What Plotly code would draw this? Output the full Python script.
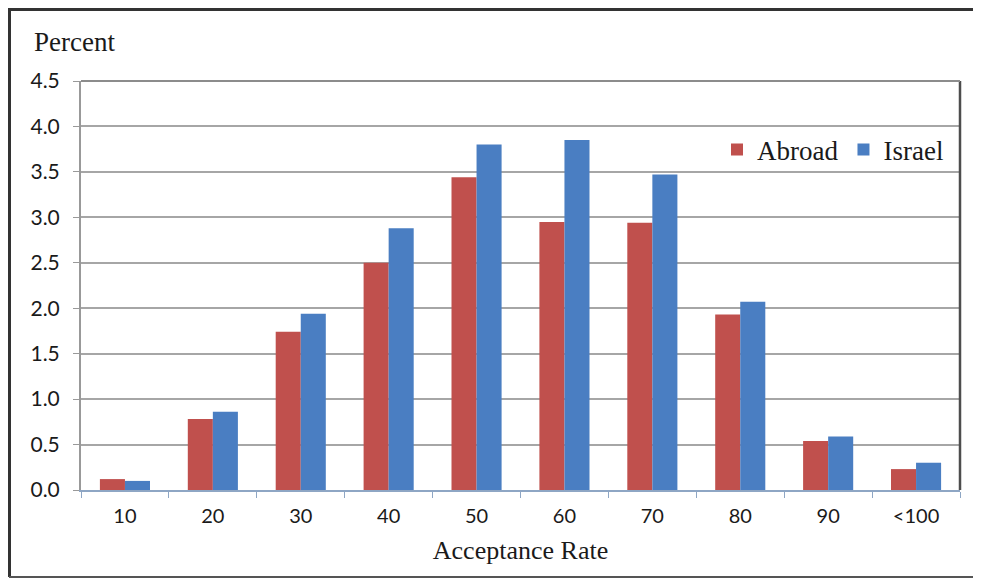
import plotly.graph_objects as go

categories = ["10", "20", "30", "40", "50", "60", "70", "80", "90", "<100"]
abroad = [0.12, 0.78, 1.74, 2.50, 3.44, 2.95, 2.94, 1.93, 0.54, 0.23]
israel = [0.10, 0.86, 1.94, 2.88, 3.80, 3.85, 3.47, 2.07, 0.59, 0.30]
y_ticks = [0.0, 0.5, 1.0, 1.5, 2.0, 2.5, 3.0, 3.5, 4.0, 4.5]

RED = "#C0504D"
BLUE = "#4A7EC2"
SERIF = "Liberation Serif"
SANS = "Lato"

fig = go.Figure()
fig.add_trace(go.Bar(name="Abroad", x=categories, y=abroad, marker=dict(color=RED, line=dict(width=0))))
fig.add_trace(go.Bar(name="Israel", x=categories, y=israel, marker=dict(color=BLUE, line=dict(width=0))))

# page body has an 8px default margin; figure coordinates are page coords minus 8
OFF = 8
W, H = 981 - OFF, 579 - OFF
L, R, T, B = 81 - OFF, 21, 81 - OFF, 89
pw, ph = W - L - R, H - T - B

def px_x(x):
    return (x - OFF - L) / pw

def px_y(y):
    return (H - B - (y - OFF)) / ph

fig.update_layout(
    width=W, height=H,
    margin=dict(l=L, r=R, t=T, b=B, pad=0),
    paper_bgcolor="white", plot_bgcolor="white",
    barmode="group", bargap=0.43, bargroupgap=0,
    font=dict(family=SANS, color="#1a1a1a"),
    showlegend=True,
    legend=dict(
        orientation="h", x=px_x(717), xanchor="left", y=px_y(150), yanchor="middle",
        font=dict(family=SERIF, size=27, color="#1a1a1a"),
        bgcolor="rgba(0,0,0,0)", itemwidth=30, tracegroupgap=0,
    ),
    xaxis=dict(
        type="category", tickson="boundaries", ticks="outside", ticklen=6,
        tickcolor="#8EA6C4", showline=True, linecolor="#8EA6C4", linewidth=2,
        tickfont=dict(family=SANS, size=20, color="#1a1a1a"), ticklabelstandoff=7,
        title=dict(text="Acceptance Rate", font=dict(family=SERIF, size=26, color="#1a1a1a"), standoff=15),
        showgrid=False, zeroline=False,
    ),
    yaxis=dict(
        range=[0, 4.5], tickvals=y_ticks, tickformat=".1f", ticks="outside", ticklen=6,
        tickcolor="#999999", showline=True, linecolor="#999999", linewidth=2,
        showgrid=True, gridcolor="#A6A6A6", gridwidth=1.5, zeroline=False,
        tickfont=dict(family=SANS, size=21, color="#1a1a1a"), ticklabelstandoff=9,
    ),
    annotations=[dict(
        text="Percent", xref="paper", yref="paper", x=px_x(32), y=px_y(42),
        xanchor="left", yanchor="middle", showarrow=False,
        font=dict(family=SERIF, size=27, color="#1a1a1a"),
    )],
    shapes=[
        dict(type="line", xref="paper", yref="paper", x0=1, x1=1, y0=0, y1=1, line=dict(color="#4d4d4d", width=2.5)),
        dict(type="line", xref="paper", yref="paper", x0=0, x1=1, y0=1, y1=1, line=dict(color="#8c8c8c", width=2)),
        dict(type="line", xref="paper", yref="paper", x0=px_x(9), x1=px_x(981), y0=px_y(9.5), y1=px_y(9.5), line=dict(color="#333333", width=3)),
        dict(type="line", xref="paper", yref="paper", x0=px_x(9.5), x1=px_x(9.5), y0=px_y(8), y1=px_y(577), line=dict(color="#333333", width=3)),
        dict(type="line", xref="paper", yref="paper", x0=px_x(9), x1=px_x(981), y0=px_y(577), y1=px_y(577), line=dict(color="#555555", width=2)),
    ],
)

fig.write_html("out.html")
